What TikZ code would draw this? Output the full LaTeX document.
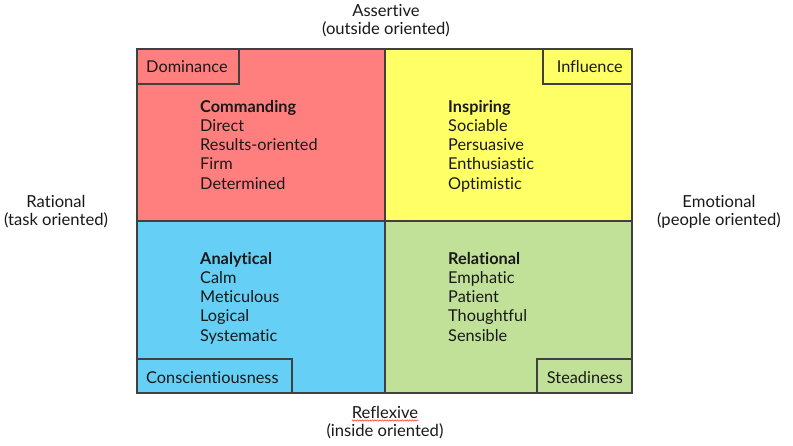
\documentclass[tikz,border=0pt]{standalone}
\usepackage{fontspec}
\setmainfont{Lato}[Ligatures={NoCommon,NoRare}]
\usetikzlibrary{decorations.pathmorphing}
\definecolor{qred}{HTML}{FF7F7F}
\definecolor{qyellow}{HTML}{FFFF66}
\definecolor{qblue}{HTML}{66CFF5}
\definecolor{qgreen}{HTML}{C1E199}
\definecolor{qline}{HTML}{404040}
\tikzset{
  quad/.style={draw=qline, line width=1.6pt},
  tagbox/.style={draw=qline, line width=1.2pt},
  txt/.style={inner sep=0pt, font=\fontsize{16.3}{18}\selectfont, text=black!90},
  head/.style={txt, font=\fontsize{16.3}{18}\selectfont\bfseries},
  axis/.style={txt, font=\fontsize{16.6}{18}\selectfont}
}
\begin{document}
\begin{tikzpicture}[x=1pt,y=-1pt]
\useasboundingbox (0,0) rectangle (793,445);
% quadrants
\filldraw[quad, fill=qred]    (137,49)  rectangle (385,221);
\filldraw[quad, fill=qyellow] (385,49)  rectangle (632,221);
\filldraw[quad, fill=qblue]   (137,221) rectangle (385,393);
\filldraw[quad, fill=qgreen]  (385,221) rectangle (632,393);
% corner tags
\draw[tagbox] (137,49) rectangle (239,84);
\node[txt, anchor=base west] (dom) at (146,72) {Dominance};
\draw[tagbox] (543,49) rectangle (632,84);
\node[txt, anchor=base east] (inf) at (623,72) {Influence};
\draw[tagbox] (137,359) rectangle (292,393);
\node[txt, anchor=base west] (con) at (146,383) {Conscientiousness};
\draw[tagbox] (537,359) rectangle (632,393);
\node[txt, anchor=base east] (ste) at (623,383) {Steadiness};
% quadrant texts
\node[head, anchor=base west] (cmd) at (200,112) {Commanding};
\foreach \t [count=\i] in {Direct,Results-oriented,Firm,Determined}
  \node[txt, anchor=base west] (cmd\i) at (200,112+19.3*\i) {\t};
\node[head, anchor=base west] (ins) at (448,112) {Inspiring};
\foreach \t [count=\i] in {Sociable,Persuasive,Enthusiastic,Optimistic}
  \node[txt, anchor=base west] (ins\i) at (448,112+19.3*\i) {\t};
\node[head, anchor=base west] (ana) at (200,264) {Analytical};
\foreach \t [count=\i] in {Calm,Meticulous,Logical,Systematic}
  \node[txt, anchor=base west] (ana\i) at (200,264+19.3*\i) {\t};
\node[head, anchor=base west] (rel) at (448,264) {Relational};
\foreach \t [count=\i] in {Emphatic,Patient,Thoughtful,Sensible}
  \node[txt, anchor=base west] (rel\i) at (448,264+19.3*\i) {\t};
% axis labels
\node[axis, anchor=base] (ass1) at (386,16) {Assertive};
\node[axis, anchor=base] (ass2) at (386,34.5) {(outside oriented)};
\node[axis, anchor=base] (ref1) at (385,418) {Reflexive};
\node[axis, anchor=base] (ref2) at (385,436.5) {(inside oriented)};
\node[axis, anchor=base] (rat1) at (56,207) {Rational};
\node[axis, anchor=base] (rat2) at (56,225.5) {(task oriented)};
\node[axis, anchor=base] (emo1) at (719,207) {Emotional};
\node[axis, anchor=base] (emo2) at (719,225.5) {(people oriented)};
\draw[red!80, line width=0.5pt, decorate, decoration={snake, amplitude=0.7pt, segment length=2.5pt}]
  ([yshift=-2.5pt]ref1.base west) -- ([yshift=-2.5pt]ref1.base east);
\end{tikzpicture}
\end{document}
